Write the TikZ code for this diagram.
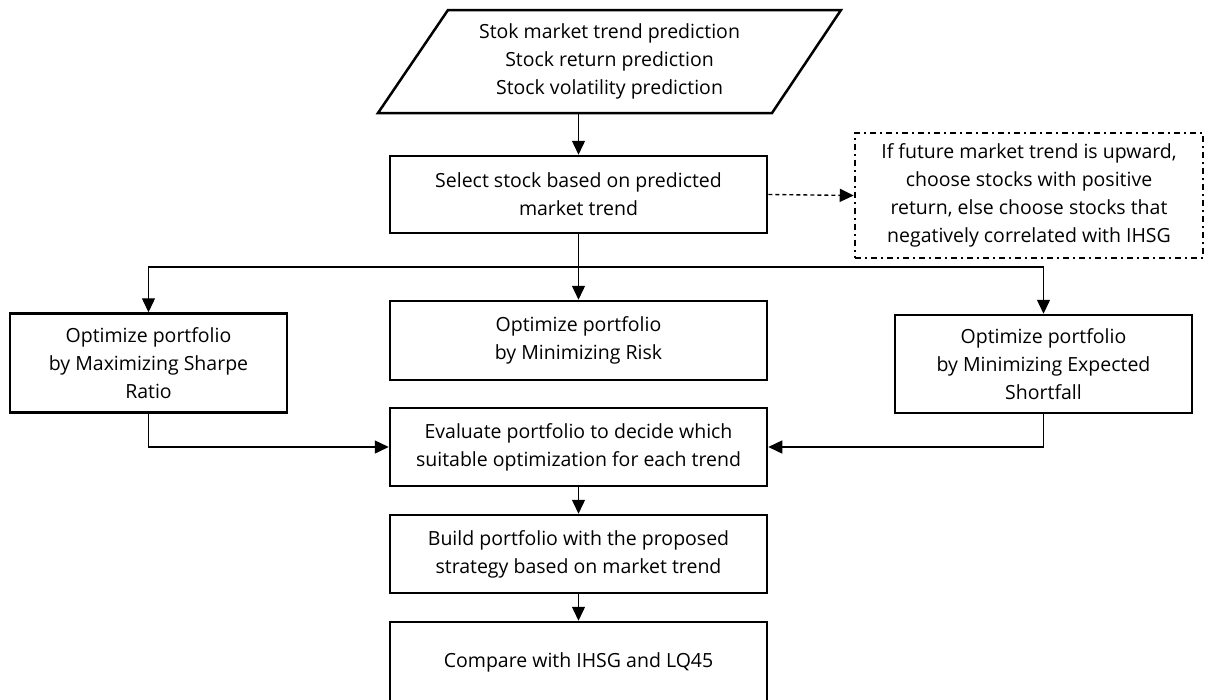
\documentclass[tikz,border=0pt]{standalone}
\usepackage{fontspec}
\setmainfont{Open Sans}
\usetikzlibrary{arrows.meta,positioning,calc}
\begin{document}
\begin{tikzpicture}[x=1pt,y=-1pt,
  box/.style={draw,line width=2.5pt,inner sep=0pt,align=center,font=\fontsize{19.5}{28}\selectfont},
  txt/.style={inner sep=0pt,align=center,font=\fontsize{19.5}{28}\selectfont},
  arr/.style={line width=1.4pt,-{Triangle[length=14pt,width=13pt]}},
  notebox/.style={draw,line width=2.5pt,dash pattern=on 6pt off 4pt on 2pt off 4pt,inner sep=0pt,align=center,font=\fontsize{19.5}{28}\selectfont}]
\useasboundingbox (0,0) rectangle (1206,699);
% input parallelogram
\draw[line width=2.5pt,line join=miter] (448,10) -- (841,10) -- (772,113) -- (378,113) -- cycle;
\node[txt,minimum width=300pt,minimum height=103pt] (in) at (609.5,61.5) {Stok market trend prediction\\Stock return prediction\\Stock volatility prediction};
\node[box,minimum width=377pt,minimum height=77pt] (sel) at (578.5,194.5) {Select stock based on predicted\\market trend};
\node[notebox,minimum width=348pt,minimum height=125pt] (note) at (1029,195.5) {If future market trend is upward,\\choose stocks with positive\\return, else choose stocks that\\negatively correlated with IHSG};
\node[box,minimum width=277pt,minimum height=99pt] (L) at (148.5,363) {Optimize portfolio\\by Maximizing Sharpe\\Ratio};
\node[box,minimum width=377pt,minimum height=79pt] (M) at (578.5,340.5) {Optimize portfolio\\by Minimizing Risk};
\node[box,minimum width=297pt,minimum height=98pt] (R) at (1043.5,364) {Optimize portfolio\\by Minimizing Expected\\Shortfall};
\node[box,minimum width=377pt,minimum height=78pt] (E) at (578.5,447) {Evaluate portfolio to decide which\\suitable optimization for each trend};
\node[box,minimum width=377pt,minimum height=78pt] (B) at (578.5,554) {Build portfolio with the proposed\\strategy based on market trend};
\node[box,minimum width=377pt,minimum height=80pt] (C) at (578.5,662) {Compare with IHSG and LQ45};
\coordinate (br) at (578.5,267);
\draw[arr] (in.south -| sel.north) -- (sel.north);
\draw[arr,dash pattern=on 4pt off 3pt] (sel.east) -- (note.west);
\draw[arr] (sel.south) -- (M.north);
\draw[arr] (br) -| (L.north);
\draw[arr] (br) -| (R.north);
\draw[arr] (L.south) |- (E.west);
\draw[arr] (R.south) |- (E.east);
\draw[arr] (E.south) -- (B.north);
\draw[arr] (B.south) -- (C.north);
\end{tikzpicture}
\end{document}
